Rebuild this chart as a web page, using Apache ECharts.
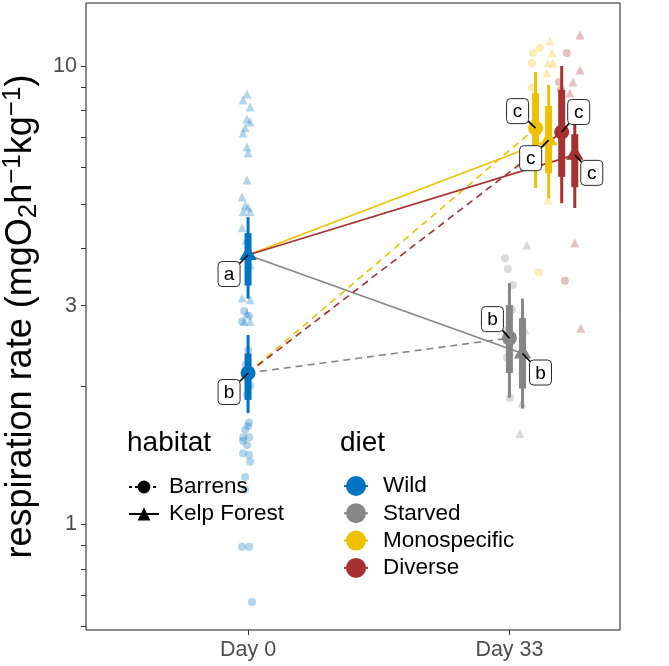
<!DOCTYPE html>
<html>
<head>
<meta charset="utf-8">
<script src="https://cdn.jsdelivr.net/npm/echarts@6/dist/echarts.min.js"></script>
<style>
html, body { margin: 0; padding: 0; background: #fff; }
#chart { width: 669px; height: 666px; }
</style>
</head>
<body>
<div id="chart"></div>
<script>
var FONT = "'Liberation Sans', Arial, Helvetica, sans-serif";

// axes
var dayLabels = ['Day 0', 'Day 33'];
var yTickValues = [1, 3, 10];
var yMinorTicks = [0.6, 0.7, 0.8, 0.9, 2, 4, 5, 6, 7, 8, 9];

var dietNames = ['Wild', 'Starved', 'Monospecific', 'Diverse'];
var dietColors = ['#0073C2', '#868686', '#EFC000', '#A73030'];
var habitatNames = ['Barrens', 'Kelp Forest'];

// group summaries: mean, 66% and 95% intervals
var grpX      = [0, 0, 1, 1.05, 1.1, 1.15, 1.2, 1.25];
var grpDiet   = ['Wild', 'Wild', 'Starved', 'Starved', 'Monospecific', 'Monospecific', 'Diverse', 'Diverse'];
var grpHab    = ['Barrens', 'Kelp Forest', 'Barrens', 'Kelp Forest', 'Barrens', 'Kelp Forest', 'Barrens', 'Kelp Forest'];
var grpMean   = [2.14, 3.87, 2.55, 2.36, 7.32, 6.89, 7.18, 6.40];
var grpLo66   = [1.87, 3.32, 2.14, 1.98, 6.14, 5.84, 5.73, 5.44];
var grpHi66   = [2.36, 4.32, 3.01, 2.82, 8.73, 8.18, 8.87, 7.10];
var grpLo95   = [1.75, 3.11, 1.89, 1.79, 5.42, 5.15, 5.02, 4.90];
var grpHi95   = [2.59, 4.68, 3.36, 3.11, 9.70, 9.09, 10.0, 7.70];
var grpLetter = ['b', 'a', 'b', 'b', 'c', 'c', 'c', 'c'];

// raw observations [x (day + jitter), respiration rate]
var rawWildBarrens = [[-0.015,2.92],[0.004,2.85],[-0.023,2.77],[0,2.40],[-0.008,2.23],[0.008,2.01],[-0.004,1.92],
  [0.004,1.67],[0,1.64],[-0.011,1.61],[-0.019,1.55],[0.004,1.55],[-0.019,1.52],[-0.004,1.49],[-0.019,1.43],
  [0.004,1.42],[0.008,1.37],[-0.011,1.27],[-0.011,1.19],[-0.023,0.894],[0.004,0.894],[0.015,0.678]];
var rawWildKelp = [[-0.004,8.69],[-0.019,8.43],[0.008,8.14],[-0.004,7.66],[0.008,7.55],[-0.011,7.33],[-0.019,7.14],
  [-0.004,6.66],[0,6.46],[-0.004,5.64],[-0.023,5.18],[-0.011,4.97],[0,4.92],[-0.019,4.81],[0.008,4.81],
  [-0.023,4.44],[-0.008,4.17],[0.008,3.68],[-0.023,3.12],[0.008,3.09],[-0.004,2.89],[-0.015,2.77],[0.008,2.77]];
var rawStarvedBarrens = [[0.983,3.81],[0.994,3.61],[1.013,3.33],[1.01,2.94],[0.994,2.66],[0.990,2.31],[1.002,1.89]];
var rawStarvedKelp = [[1.067,4.07],[1.059,2.66],[1.048,2.17],[1.048,1.84],[1.040,1.58]];
var rawMonoBarrens = [[1.090,10.67],[1.117,10.95],[1.086,10.15],[1.086,8.96],[1.101,6.56],[1.113,3.55]];
var rawMonoKelp = [[1.155,11.34],[1.163,10.67],[1.147,10.15],[1.166,10.15],[1.143,9.66],[1.147,5.10]];
var rawDiverseBarrens = [[1.220,10.67],[1.189,9.23],[1.197,8.87],[1.212,3.40]];
var rawDiverseKelp = [[1.270,11.69],[1.270,9.80],[1.243,9.23],[1.231,8.73],[1.250,4.11],[1.273,2.68]];

var rawGroups = [
  {diet: 'Wild', hab: 'Barrens', pts: rawWildBarrens},
  {diet: 'Wild', hab: 'Kelp Forest', pts: rawWildKelp},
  {diet: 'Starved', hab: 'Barrens', pts: rawStarvedBarrens},
  {diet: 'Starved', hab: 'Kelp Forest', pts: rawStarvedKelp},
  {diet: 'Monospecific', hab: 'Barrens', pts: rawMonoBarrens},
  {diet: 'Monospecific', hab: 'Kelp Forest', pts: rawMonoKelp},
  {diet: 'Diverse', hab: 'Barrens', pts: rawDiverseBarrens},
  {diet: 'Diverse', hab: 'Kelp Forest', pts: rawDiverseKelp}
];

// label box offsets from the point (px)
var labelDx = [-19, -19, -17, 18, -18, -18, 17, 17];
var labelDy = [19, 19, -19, 19, -17, 18, -20, 18];

function lg(v) { return Math.log10(v); }
function dietColor(d) { return dietColors[dietNames.indexOf(d)]; }

var chart = echarts.init(document.getElementById('chart'));

var series = [];

// raw points
rawGroups.forEach(function (g) {
  series.push({
    type: 'scatter',
    silent: true,
    z: 1,
    symbol: g.hab === 'Barrens' ? 'circle' : 'triangle',
    symbolSize: g.hab === 'Barrens' ? 8 : 9,
    itemStyle: {color: dietColor(g.diet), opacity: 0.3},
    data: g.pts.map(function (p) { return [p[0], lg(p[1])]; })
  });
});

// connecting lines Day 0 -> Day 33
for (var j = 0; j < grpX.length; j++) {
  if (grpX[j] === 0) continue;
  var k = grpHab.indexOf(grpHab[j]);
  series.push({
    type: 'line',
    silent: true,
    z: 2,
    symbol: 'none',
    lineStyle: {color: dietColor(grpDiet[j]), width: 1.6, type: grpHab[j] === 'Barrens' ? [7, 5] : 'solid'},
    data: [[grpX[k], lg(grpMean[k])], [grpX[j], lg(grpMean[j])]]
  });
}

// point + intervals
var rangeData = grpX.map(function (x, i) {
  return [x, lg(grpMean[i]), lg(grpLo95[i]), lg(grpHi95[i]), lg(grpLo66[i]), lg(grpHi66[i]),
    dietNames.indexOf(grpDiet[i]), habitatNames.indexOf(grpHab[i])];
});

series.push({
  type: 'custom',
  silent: true,
  z: 3,
  data: rangeData,
  renderItem: function (params, api) {
    var x = api.value(0);
    var c = api.coord([x, api.value(1)]);
    var lo95 = api.coord([x, api.value(2)]), hi95 = api.coord([x, api.value(3)]);
    var lo66 = api.coord([x, api.value(4)]), hi66 = api.coord([x, api.value(5)]);
    var col = dietColors[api.value(6)];
    var marker;
    if (api.value(7) === 0) {
      marker = {type: 'circle', shape: {cx: c[0], cy: c[1], r: 7.5}, style: {fill: col}};
    } else {
      marker = {type: 'polygon', shape: {points: [[c[0], c[1] - 10], [c[0] - 8.7, c[1] + 5], [c[0] + 8.7, c[1] + 5]]}, style: {fill: col}};
    }
    return {
      type: 'group',
      children: [
        {type: 'line', shape: {x1: c[0], y1: hi95[1], x2: c[0], y2: lo95[1]}, style: {stroke: col, lineWidth: 3}},
        {type: 'line', shape: {x1: c[0], y1: hi66[1], x2: c[0], y2: lo66[1]}, style: {stroke: col, lineWidth: 7}},
        marker
      ]
    };
  }
});

// letter labels
series.push({
  type: 'custom',
  silent: true,
  z: 4,
  data: grpX.map(function (x, i) { return [x, lg(grpMean[i])]; }),
  renderItem: function (params, api) {
    var i = params.dataIndex;
    var c = api.coord([api.value(0), api.value(1)]);
    var bx = c[0] + labelDx[i], by = c[1] + labelDy[i];
    return {
      type: 'group',
      children: [
        {type: 'line', shape: {x1: c[0], y1: c[1], x2: bx, y2: by}, style: {stroke: '#000', lineWidth: 1.6}},
        {type: 'rect', shape: {x: bx - 11, y: by - 12.5, width: 22, height: 25, r: 4}, style: {fill: '#fff', stroke: '#111', lineWidth: 0.9}},
        {type: 'text', style: {text: grpLetter[i], x: bx, y: by + 1, align: 'center', verticalAlign: 'middle',
          fontSize: 19, fontFamily: FONT, fill: '#000'}}
      ]
    };
  }
});

// legend-only series
habitatNames.forEach(function (h) {
  series.push({
    type: 'line', name: h, data: [],
    symbol: h === 'Barrens' ? 'circle' : 'triangle',
    itemStyle: {color: '#000'},
    lineStyle: {color: '#000', width: 1, type: h === 'Barrens' ? [3, 3] : 'solid'}
  });
});
dietNames.forEach(function (d, i) {
  series.push({
    type: 'line', name: d, data: [],
    symbol: 'circle',
    itemStyle: {color: dietColors[i]},
    lineStyle: {color: dietColors[i], width: 1}
  });
});

var option = {
  animation: false,
  backgroundColor: '#fff',
  grid: {left: 86, right: 49, top: 3, bottom: 36, show: true, borderColor: '#1a1a1a', borderWidth: 1,
    containLabel: false, outerBoundsMode: 'none'},
  title: [
    {text: 'habitat', left: 127, top: 429, padding: 0, textStyle: {fontSize: 28, fontWeight: 'normal', color: '#000', fontFamily: FONT}},
    {text: 'diet', left: 340, top: 429, padding: 0, textStyle: {fontSize: 28, fontWeight: 'normal', color: '#000', fontFamily: FONT}}
  ],
  legend: [
    {
      data: habitatNames, orient: 'vertical', left: 128, top: 475, padding: 0,
      itemWidth: 30, itemHeight: 16, itemGap: 3, selectedMode: false,
      textStyle: {fontSize: 22.5, lineHeight: 24, color: '#000', fontFamily: FONT, padding: [0, 0, 0, 5]}
    },
    {
      data: dietNames, orient: 'vertical', left: 343, top: 474, padding: 0,
      itemWidth: 24, itemHeight: 25, itemGap: 3.3, selectedMode: false,
      textStyle: {fontSize: 22.5, lineHeight: 24, color: '#000', fontFamily: FONT, padding: [0, 0, 0, 10]}
    }
  ],
  xAxis: {
    type: 'value', min: -0.62, max: 1.423,
    axisLine: {show: false, onZero: false},
    splitLine: {show: false},
    axisTick: {show: true, length: 5, customValues: [0, 1], lineStyle: {color: '#333', width: 1}},
    axisLabel: {customValues: [0, 1], margin: 9, fontSize: 21.5, color: '#4d4d4d', fontFamily: FONT,
      formatter: function (v) { return dayLabels[Math.round(v)]; }}
  },
  yAxis: {
    type: 'value', min: -0.2301, max: 1.1374,
    axisLine: {show: false, onZero: false},
    splitLine: {show: false},
    axisTick: {show: true, length: 5, customValues: yTickValues.concat(yMinorTicks).map(lg), lineStyle: {color: '#333', width: 1}},
    axisLabel: {customValues: yTickValues.map(lg), margin: 9, fontSize: 21.5, color: '#4d4d4d', fontFamily: FONT,
      formatter: function (v) { return String(Math.round(Math.pow(10, v))); }},
    name: '{t|respiration rate (mgO}{sub|2}{t|h}{sup|\u22121}{t|kg}{sup|\u22121}{t|)}',
    nameLocation: 'middle',
    nameGap: 30,
    nameRotate: 90,
    nameTextStyle: {
      color: '#000', fontFamily: FONT,
      rich: {
        t: {fontSize: 36, lineHeight: 42, verticalAlign: 'middle', fontFamily: FONT, color: '#000'},
        sub: {fontSize: 26, lineHeight: 26, verticalAlign: 'bottom', fontFamily: FONT, color: '#000'},
        sup: {fontSize: 26, lineHeight: 26, verticalAlign: 'top', fontFamily: FONT, color: '#000'}
      }
    }
  },
  series: series
};

chart.setOption(option);
</script>
</body>
</html>
